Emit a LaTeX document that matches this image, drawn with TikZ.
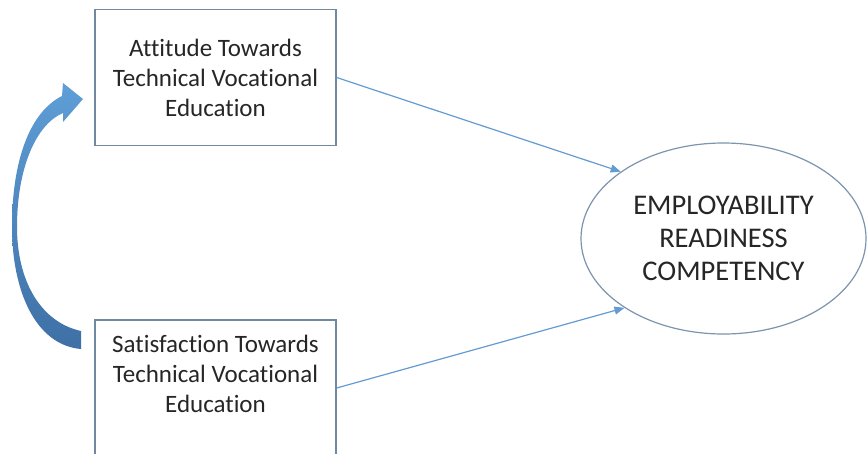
\documentclass[tikz,border=0pt]{standalone}
\usepackage{fontspec}
\setmainfont{Carlito}[Ligatures={NoCommon,NoRare,NoContextual}]
\usetikzlibrary{arrows.meta,shapes.geometric}
\definecolor{boxline}{RGB}{112,136,160}
\definecolor{ellline}{RGB}{125,148,175}
\definecolor{arrline}{RGB}{100,155,210}
\definecolor{curvetop}{RGB}{95,158,215}
\definecolor{curvebot}{RGB}{62,112,165}
\begin{document}
\begin{tikzpicture}[x=1pt,y=-1pt,
  factorbox/.style={draw=boxline,line width=1.3pt,minimum width=241pt,minimum height=136pt,inner sep=0pt},
  boxtext/.style={align=center,font=\fontsize{25}{30}\selectfont,text=black!85,inner sep=0pt},
  outcome/.style={ellipse,draw=ellline,line width=1.2pt,minimum width=285pt,minimum height=191pt,inner sep=0pt,align=center,font=\fontsize{28.5}{33}\selectfont,text=black!85},
  path/.style={draw=arrline,line width=1.2pt,-{Triangle[length=10pt,width=8pt]}},
  covarrow/.style={top color=curvetop,bottom color=curvebot,draw=none}
]
\useasboundingbox (0,0) rectangle (867,453);
\fill[white] (0,0) rectangle (867,453);

\node[factorbox,boxtext] (att) at (215.5,77.5) {Attitude Towards\\Technical Vocational\\Education};
\node[factorbox] (sat) at (215.5,388) {};
\node[boxtext] (sattext) at (215.5,373.5) {Satisfaction Towards\\Technical Vocational\\Education};

\node[outcome] (erc) at (723.5,238.5) {EMPLOYABILITY\\READINESS\\COMPETENCY};

\draw[path] (att.east) -- (erc.147);
\draw[path] (sat.east) -- (erc.215);

% curved block arrow between the two factors
\path[covarrow] (81,349)
  .. controls (35,345) and (12,290) .. (12,227)
  .. controls (12,160) and (30,112) .. (62,96)
  -- (63,83) -- (83,99) -- (63,122) -- (63,113)
  .. controls (35,125) and (17,170) .. (17,227)
  .. controls (17,280) and (40,322) .. (81,331)
  -- cycle;
\end{tikzpicture}
\end{document}
